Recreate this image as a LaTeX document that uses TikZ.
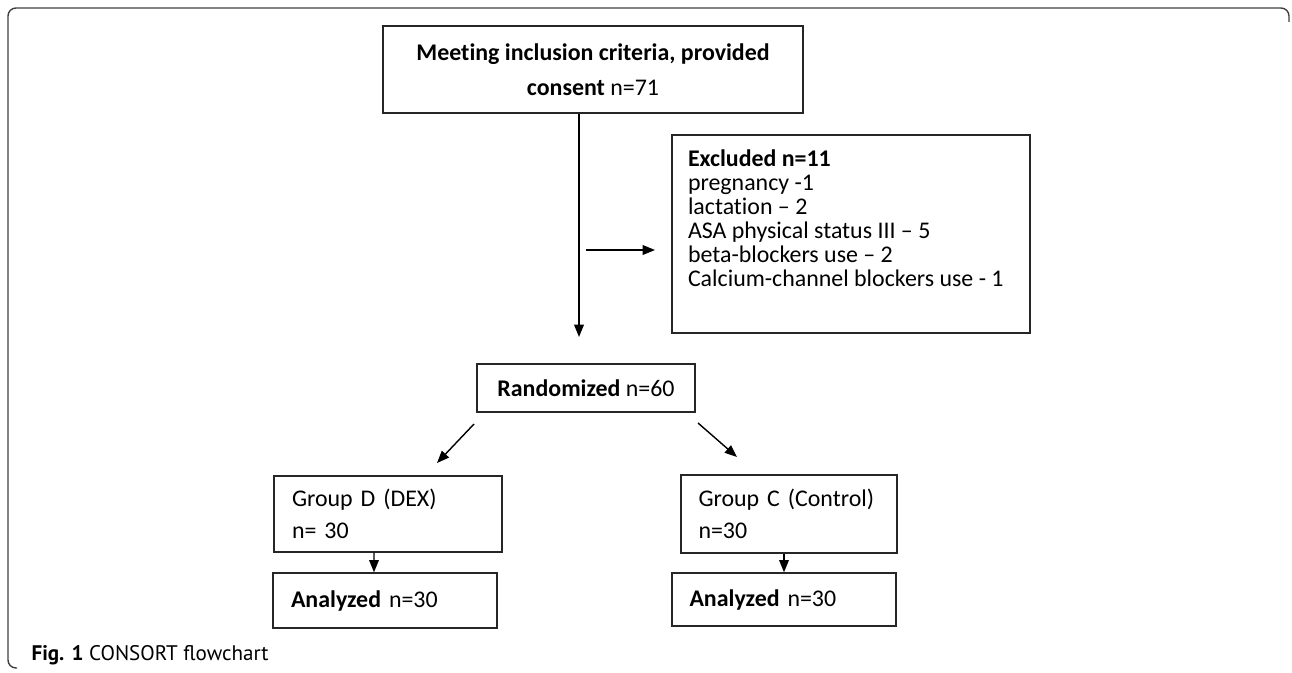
\documentclass[tikz,border=0pt]{standalone}
\usepackage{fontspec}
\setmainfont{Carlito}[Ligatures=NoCommon]
\newfontfamily\capfont{PT Sans}
\usetikzlibrary{%
  arrows.meta,%
  positioning,% wg. " of "
  calc%
}

\begin{document}
\begin{tikzpicture}
  [
  line width=0.8pt,
  draw=black, >={Triangle[length=7pt,width=5.5pt]},
  flowbox/.style={rectangle, draw=black!85, inner sep=0pt, font=\fontsize{13.6}{18.1}\selectfont},
  groupbox/.style={flowbox, align=left, inner xsep=0.36cm},
  ]

\useasboundingbox (0,0) rectangle (25.84,13.44);
\draw[draw=black!75,rounded corners=0.16cm] (25.78,13.0) |- (0.16,13.28) |- (0.34,0.08);

\node[flowbox, minimum width=8.4cm, minimum height=1.74cm, align=center,
  font=\fontsize{13.6}{19.8}\selectfont] (consent) at (11.86,12.05)
  {\textbf{Meeting inclusion criteria, provided}\\\textbf{consent} n=71};

\node[flowbox, minimum width=7.16cm, minimum height=3.96cm, inner xsep=0.32cm, inner ysep=0.3cm] (excluded) at (17.02,8.76)
  {\parbox[t][3.36cm][t]{6.52cm}{\fontsize{13.6}{13.6}\selectfont
   \textbf{Excluded n=11}\\
   pregnancy -1\\
   lactation -- 2\\
   ASA physical status III -- 5\\
   beta-blockers use -- 2\\
   Calcium-channel blockers use - 1}};

\node[flowbox, minimum width=4.36cm, minimum height=0.96cm] (random) at (11.72,5.68) {\textbf{Randomized} n=60};

\node[groupbox, text width=3.84cm, minimum height=1.52cm] (groupD) at (7.76,3.16) {Group D (DEX)\\n= 30};
\node[groupbox, text width=3.62cm, minimum height=1.56cm, inner xsep=0.35cm] (groupC) at (15.78,3.16) {Group C (Control)\\n=30};

\node[groupbox, text width=3.76cm, minimum height=1.10cm] (analysedD) at (7.70,1.43) {\textbf{Analyzed} n=30};
\node[groupbox, text width=3.78cm, minimum height=1.06cm, inner xsep=0.35cm] (analysedC) at (15.68,1.45) {\textbf{Analyzed} n=30};

\coordinate (mainend) at (11.58,6.70);
\coordinate (exstart) at (11.72,8.44);
\coordinate (exend) at (13.10,8.44);
\coordinate (splitDs) at (9.48,4.96);
\coordinate (splitDe) at (8.74,4.18);
\coordinate (splitCs) at (13.96,4.98);
\coordinate (splitCe) at (14.74,4.30);

\draw[->] (consent.south -| mainend) -- (mainend);
\draw[->] (exstart) -- (exend);
\draw[->] (splitDs) -- (splitDe);
\draw[->] (splitCs) -- (splitCe);
\draw[->] ([xshift=-0.28cm]groupD.south) -- ([xshift=-0.22cm]analysedD.north);
\draw[->] ([xshift=-0.10cm]groupC.south) -- (analysedC.north);

\node[anchor=base west, font=\capfont\fontsize{12}{14}\selectfont] (caption) at (0.5,0.24) {\textbf{Fig. 1} CONSORT flowchart};
\end{tikzpicture}
\end{document}
